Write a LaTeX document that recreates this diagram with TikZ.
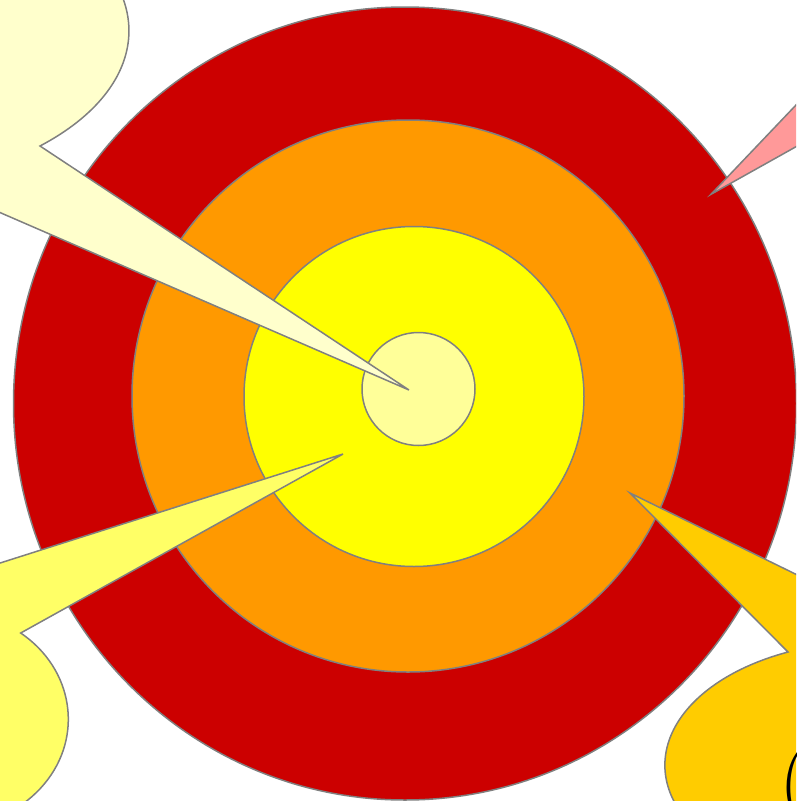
\documentclass[tikz,border=0pt]{standalone}
\usetikzlibrary{shapes.geometric}
\definecolor{linegray}{RGB}{128,128,128}
\definecolor{ringred}{RGB}{204,0,0}
\definecolor{ringorange}{RGB}{255,153,0}
\definecolor{ringyellow}{RGB}{255,255,0}
\definecolor{centeryellow}{RGB}{255,255,153}
\definecolor{calloutcream}{RGB}{255,255,204}
\definecolor{calloutpink}{RGB}{255,153,153}
\definecolor{calloutyellow}{RGB}{255,255,102}
\definecolor{calloutgold}{RGB}{255,204,0}
\begin{document}
\begin{tikzpicture}[x=1pt,y=-1pt,
  ring/.style={circle, draw=linegray, line width=1.5pt, inner sep=0pt},
  callout/.style={draw=linegray, line width=1.5pt, line join=miter}]
\useasboundingbox (0,0) rectangle (796,801);
\clip (0,0) rectangle (796,801);
% concentric rings
\node[ellipse, draw=linegray, line width=1.5pt, inner sep=0pt, fill=ringred,
  minimum width=783pt, minimum height=793pt] (outer) at (405,403.5) {};
\node[ring, fill=ringorange, minimum size=552pt] (middle) at (408,396) {};
\node[ring, fill=ringyellow, minimum size=340pt] (inner) at (414,396.5) {};
\node[ring, fill=centeryellow, minimum size=113pt] (bull) at (418.5,389) {};
% top-left callout
\coordinate (tipA) at (409,390);
\coordinate (baseA) at (40,146);
\filldraw[callout, fill=calloutcream] (tipA) -- (baseA)
  arc[start angle=46.8, end angle=-287, x radius=282, y radius=158] -- cycle;
% top-right callout
\coordinate (tipD) at (711,194.3);
\coordinate (baseD) at (880,99.7);
\coordinate (endD) at (830,69.3);
\filldraw[callout, fill=calloutpink] (tipD) -- (baseD)
  arc[start angle=130, end angle=-204, x radius=150, y radius=90] -- (endD) -- cycle;
% bottom-left callout
\coordinate (tipB) at (343,454);
\coordinate (baseB) at (20.7,633);
\coordinate (farB) at (-200,626.6);
\filldraw[callout, fill=calloutyellow] (tipB) -- (baseB)
  arc[start angle=-52.9, end angle=225, x radius=120, y radius=108] -- (farB) -- cycle;
% bottom-right callout
\coordinate (tipC) at (630,493);
\coordinate (baseC) at (788,652);
\filldraw[callout, fill=calloutgold] (tipC) -- (baseC)
  arc[start angle=245.8, end angle=-68.5, x radius=208.6, y radius=124] -- cycle;
\node[anchor=base west, inner sep=0pt, font=\fontsize{84}{100}\selectfont] (glyph) at (779,808) {(};
\end{tikzpicture}
\end{document}
